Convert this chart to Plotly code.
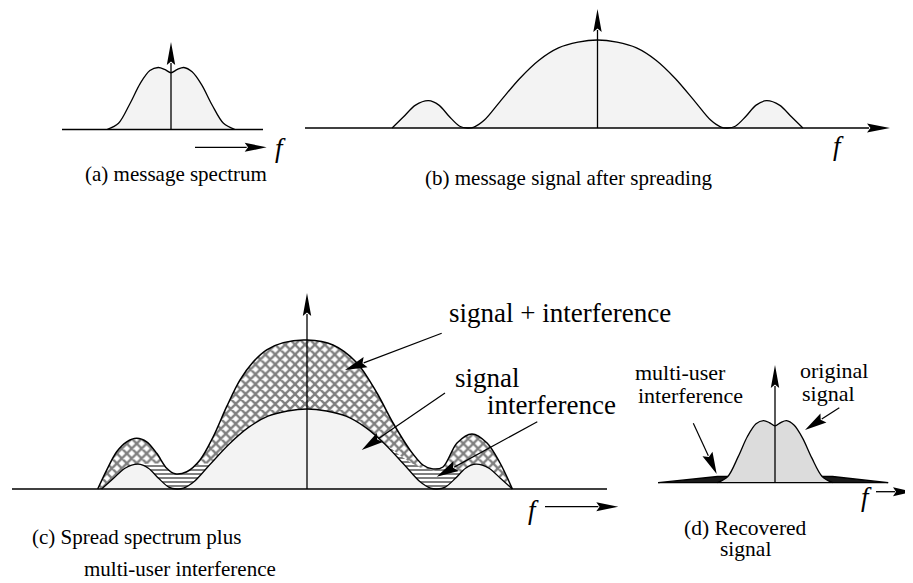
import math
import plotly.graph_objects as go

W, H = 913, 583      # browser window
OFF = 8              # default body margin of the html page

# ---------------- data ----------------
# message spectrum (normalised frequency, normalised amplitude) – panels (a) and (d)
message_f = [-1.0, -0.82, -0.64, -0.48, -0.33, -0.2, -0.1, 0.0, 0.1, 0.2, 0.33, 0.48, 0.64, 0.82, 1.0]
message_amp = [0.0, 0.1, 0.42, 0.745, 0.95, 1.0, 0.97, 0.915, 0.97, 1.0, 0.93, 0.72, 0.4, 0.1, 0.0]

# spread signal spectrum – panel (b) and the signal in panel (c)
spread_f = [-1.58, -1.49, -1.40, -1.30, -1.22, -1.14, -1.06, -1.0, -0.95, -0.87, -0.75, -0.6, -0.45,
            -0.3, -0.15, 0.0, 0.15, 0.3, 0.45, 0.6, 0.75, 0.87, 0.95, 1.0, 1.06, 1.14, 1.22, 1.30,
            1.40, 1.49, 1.58]
spread_amp = [0.0, 0.13, 0.26, 0.31, 0.26, 0.13, 0.02, 0.0, 0.01, 0.09, 0.3, 0.56, 0.77, 0.91, 0.975,
              1.0, 0.975, 0.91, 0.77, 0.56, 0.3, 0.09, 0.01, 0.0, 0.02, 0.13, 0.26, 0.31, 0.26, 0.13, 0.0]

# signal + interference envelope – panel (c)
outer_f = [-1.61, -1.54, -1.464, -1.387, -1.31, -1.233, -1.156, -1.079, -1.015, -0.925, -0.823, -0.721,
           -0.618, -0.515, -0.413, -0.31, -0.182, 0.0, 0.2, 0.385, 0.538, 0.662, 0.792, 0.892, 0.969,
           1.046, 1.154, 1.269, 1.385, 1.485, 1.58]
outer_amp = [0.0, 0.24, 0.466, 0.59, 0.634, 0.59, 0.446, 0.259, 0.19, 0.216, 0.363, 0.654, 1.029, 1.363,
             1.59, 1.74, 1.83, 1.862, 1.8, 1.575, 1.2, 0.825, 0.488, 0.3, 0.25, 0.275, 0.575, 0.688,
             0.575, 0.325, 0.0]

# interference bands (upper edge of the horizontally hatched areas) – panel (c)
stripes_left_f = [-1.30, -1.30, -1.20, -1.12, -1.08, -1.015, -0.925, -0.86, -0.80, -0.72, -0.72]
stripes_left_amp = [0.0, 0.31, 0.32, 0.32, 0.25, 0.18, 0.205, 0.29, 0.32, 0.32, 0.0]
stripes_right_f = [0.53, 0.538, 0.638, 0.715, 0.792, 0.869, 0.969, 1.046, 1.10, 1.16, 1.20, 1.20]
stripes_right_amp = [0.0, 0.62, 0.52, 0.42, 0.335, 0.27, 0.23, 0.25, 0.26, 0.21, 0.19, 0.0]

# residual multi-user interference – panel (d)
residual_f = [-2.03, -1.0, 1.0, 1.97]
residual_amp = [0.0, 0.1, 0.1, 0.0]

# ---------------- layout calibration (page-pixel origin and pixels per unit) ----------------
CAL = {
    "a": dict(ox=171, oy=129.5, kx=64, ky=62, ax="", top=42, base=(62, 263)),
    "b": dict(ox=597.5, oy=128, kx=130, ky=88, ax="2", top=9, base=(305, 890)),
    "c": dict(ox=307, oy=489, kx=130, ky=80, ax="3", top=293, base=(12, 607)),
    "d": dict(ox=775, oy=482.7, kx=57.5, ky=62, ax="4", top=365, base=(658, 888)),
}

FONT = "Liberation Serif"
LIGHT = "#f3f3f3"
DARK = "#dcdcdc"
LW = 1.3

fig = go.Figure()


def add(panel, f, a, **kw):
    c = CAL[panel]
    fig.add_trace(go.Scatter(x=f, y=a, xaxis="x" + c["ax"], yaxis="y" + c["ax"],
                             mode="lines", hoverinfo="skip", showlegend=False, **kw))


spl = dict(shape="spline", smoothing=0.9)

# (a)
add("a", message_f, message_amp, fill="tozeroy", fillcolor=LIGHT, line=dict(color="black", width=LW, **spl))
# (b)
add("b", spread_f, spread_amp, fill="tozeroy", fillcolor=LIGHT, line=dict(color="black", width=LW, **spl))
# (c)
add("c", outer_f, outer_amp, fill="tozeroy",
    fillpattern=dict(shape="x", size=7, solidity=0.55, fgcolor="black", bgcolor="white"),
    line=dict(color="rgba(0,0,0,0)", width=0, **spl))
for sf, sa in ((stripes_left_f, stripes_left_amp), (stripes_right_f, stripes_right_amp)):
    add("c", sf, sa, fill="tozeroy",
        fillpattern=dict(shape="-", size=4, solidity=0.5, fgcolor="black", bgcolor="white"),
        line=dict(color="rgba(0,0,0,0)", width=0))
add("c", spread_f, spread_amp, fill="tozeroy", fillcolor=LIGHT, line=dict(color="black", width=LW, **spl))
add("c", outer_f, outer_amp, line=dict(color="black", width=LW + 0.2, **spl))
# (d)
add("d", residual_f, residual_amp, fill="tozeroy", fillcolor="#1a1a1a",
    line=dict(color="black", width=1.3))
add("d", message_f, message_amp, fill="tozeroy", fillcolor=DARK, line=dict(color="black", width=LW, **spl))

# ---------------- axes (the figure starts OFF pixels into the page) ----------------
layout_axes = {}
for p, c in CAL.items():
    xr = [(OFF - c["ox"]) / c["kx"], (W - c["ox"]) / c["kx"]]
    yr = [(c["oy"] - H) / c["ky"], (c["oy"] - OFF) / c["ky"]]
    xa = dict(range=xr, visible=False, fixedrange=True)
    ya = dict(range=yr, visible=False, fixedrange=True)
    if c["ax"]:
        xa["overlaying"] = "x"
        ya["overlaying"] = "y"
        xa["anchor"] = "y" + c["ax"]
        ya["anchor"] = "x" + c["ax"]
    layout_axes["xaxis" + c["ax"]] = xa
    layout_axes["yaxis" + c["ax"]] = ya
# page-pixel overlay for decorations
layout_axes["xaxis5"] = dict(range=[OFF, W], visible=False, overlaying="x", anchor="y5", fixedrange=True)
layout_axes["yaxis5"] = dict(range=[H, OFF], visible=False, overlaying="y", anchor="x5", fixedrange=True)

shapes = []


def seg(p0, p1, w=LW, color="black"):
    shapes.append(dict(type="line", xref="x5", yref="y5", x0=p0[0], y0=p0[1], x1=p1[0], y1=p1[1],
                       line=dict(color=color, width=w), layer="above"))


def arrow(tail, tip, L=22, w=4.5, lw=LW):
    dx, dy = tip[0] - tail[0], tip[1] - tail[1]
    n = math.hypot(dx, dy)
    ux, uy = dx / n, dy / n
    bx, by = tip[0] - L * ux, tip[1] - L * uy
    px, py = -uy, ux
    seg(tail, (bx + 2 * ux, by + 2 * uy), w=lw)
    path = (f"M{tip[0]},{tip[1]} L{bx + w * px},{by + w * py} "
            f"L{bx + 0.15 * L * ux},{by + 0.15 * L * uy} L{bx - w * px},{by - w * py} Z")
    shapes.append(dict(type="path", xref="x5", yref="y5", path=path, fillcolor="black",
                       line=dict(width=0), layer="above"))


# baselines and vertical axes
for p, c in CAL.items():
    if p == "b":
        arrow((c["base"][0], c["oy"]), (c["base"][1], c["oy"]), L=23, w=4.5)
    else:
        seg((c["base"][0], c["oy"]), (c["base"][1], c["oy"]))
    arrow((c["ox"], c["oy"]), (c["ox"], c["top"]), L=23, w=4.2)

# frequency arrows
arrow((195, 147.3), (266.7, 147.3), L=22, w=4.5)
arrow((545, 506.7), (618.3, 506.7), L=22, w=4.5)
arrow((876, 491.7), (913, 491.7), L=20, w=4.5)

# label pointers
arrow((441.7, 333.3), (345, 370), L=22, w=5.5, lw=1.2)
arrow((445, 393), (361.7, 450), L=22, w=5.5, lw=1.2)
arrow((537.3, 421.7), (436.7, 476.7), L=22, w=5.5, lw=1.2)
arrow((693.3, 423.3), (716.7, 474), L=22, w=5.5, lw=1.2)
arrow((839.3, 407.7), (805, 430), L=22, w=5.5, lw=1.2)

annotations = []


def txt(s, x, y, size, anchor="left"):
    annotations.append(dict(text=s, x=x, y=y, xref="x5", yref="y5", xanchor=anchor, yanchor="middle",
                            showarrow=False, font=dict(family=FONT, size=size, color="black")))


# f labels
for x, y in ((280, 148), (838, 146), (533, 510), (866, 497)):
    txt("<i>f</i>", x, y, 27, "center")

# captions
txt("(a) message spectrum", 176, 174, 21, "center")
txt("(b) message signal after spreading", 568, 178, 21, "center")
txt("(c) Spread spectrum plus", 30, 537, 21)
txt("multi-user interference", 82, 569, 21)
txt("(d) Recovered", 682, 528, 21.5)
txt("signal", 718, 549, 21.5)

# panel (c) labels
txt("signal + interference", 447, 313, 27)
txt("signal", 453, 378, 27)
txt("interference", 485, 405, 27)

# panel (d) labels
txt("multi-user", 633, 372, 22)
txt("interference", 636, 395, 22)
txt("original", 798, 370, 22)
txt("signal", 800, 393, 22)

fig.update_layout(
    width=W - OFF, height=H - OFF, autosize=False,
    margin=dict(l=0, r=0, t=0, b=0, pad=0),
    paper_bgcolor="white", plot_bgcolor="rgba(0,0,0,0)",
    showlegend=False, shapes=shapes, annotations=annotations,
    **layout_axes,
)

fig.write_html("out.html", config={"displayModeBar": False})
